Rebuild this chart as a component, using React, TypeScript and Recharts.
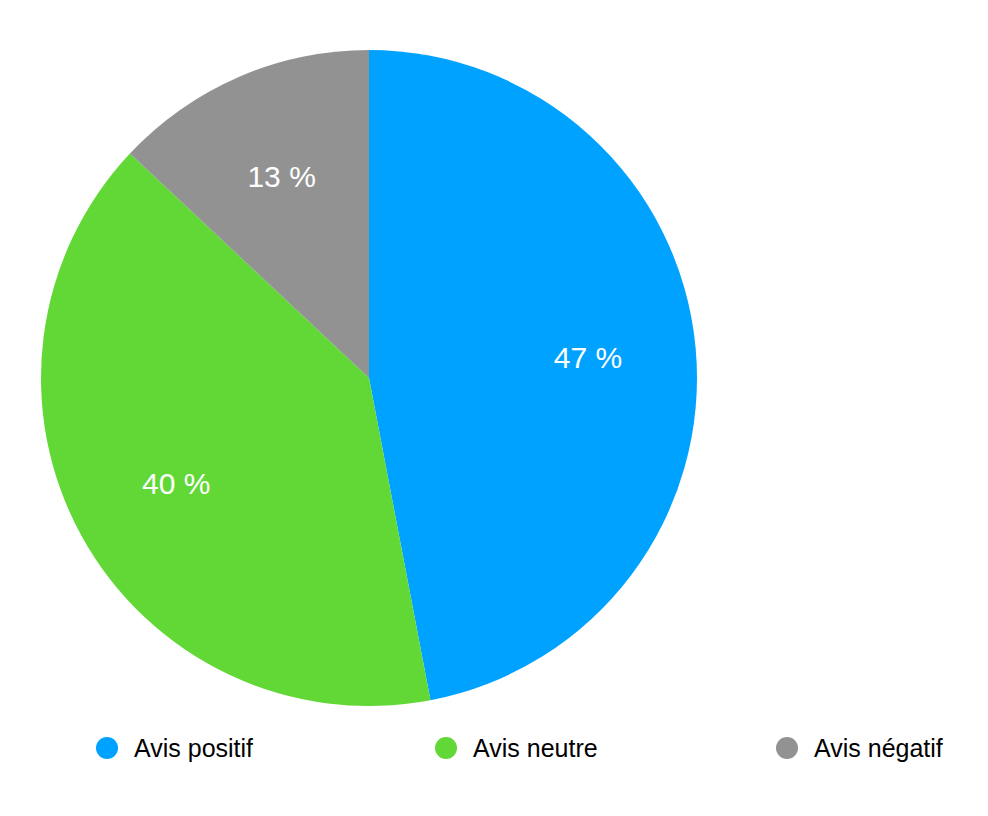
import React from "react";
import { PieChart, Pie, Cell, Legend } from "recharts";

const categories = ["Avis positif", "Avis neutre", "Avis négatif"];
const shares = [47, 40, 13];
const colors = ["#00A2FF", "#61D836", "#929292"];

const data = categories.map((name, i) => ({ name, value: shares[i] }));

const RADIAN = Math.PI / 180;
const FONT = "Helvetica, Arial, 'Liberation Sans', sans-serif";

const renderLabel = (props: any) => {
  const { cx, cy, midAngle, value } = props;
  const r = 220;
  const x = cx + r * Math.cos(-midAngle * RADIAN);
  const y = cy + r * Math.sin(-midAngle * RADIAN);
  return (
    <text
      x={x}
      y={y}
      fill="#ffffff"
      textAnchor="middle"
      dominantBaseline="central"
      fontSize={30}
      fontFamily={FONT}
    >
      {`${value} %`}
    </text>
  );
};

const legendLeft = [96, 435, 776];

const renderLegend = () => (
  <div style={{ position: "relative", width: 988, height: 34 }}>
    {data.map((d, i) => (
      <div
        key={d.name}
        style={{
          position: "absolute",
          left: legendLeft[i],
          top: 0,
          height: 34,
          display: "flex",
          alignItems: "center",
          fontFamily: FONT,
          fontSize: 25,
          color: "#000",
        }}
      >
        <span
          style={{
            display: "inline-block",
            width: 22,
            height: 22,
            borderRadius: "50%",
            background: colors[i],
            marginRight: 16,
          }}
        />
        {d.name}
      </div>
    ))}
  </div>
);

export default function App() {
  return (
    <div style={{ position: "absolute", left: 0, top: 0, width: 988, height: 816, background: "#fff" }}>
      <PieChart width={988} height={816} margin={{ top: 0, right: 0, bottom: 0, left: 0 }}>
        <Pie
          data={data}
          dataKey="value"
          nameKey="name"
          cx={369}
          cy={378}
          outerRadius={328}
          startAngle={90}
          endAngle={-270}
          stroke="none"
          label={renderLabel}
          labelLine={false}
          isAnimationActive={false}
        >
          {data.map((d, i) => (
            <Cell key={d.name} fill={colors[i]} />
          ))}
        </Pie>
        <Legend
          content={renderLegend}
          wrapperStyle={{ position: "absolute", left: 0, top: 731, width: 988 }}
        />
      </PieChart>
    </div>
  );
}
